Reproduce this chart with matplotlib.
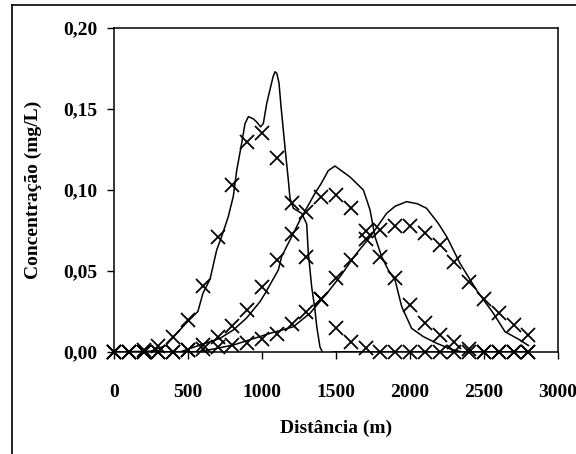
import matplotlib
matplotlib.use("Agg")
import matplotlib.pyplot as plt
from matplotlib.lines import Line2D
from matplotlib.ticker import FuncFormatter

plt.rcParams['font.family'] = ['Liberation Serif', 'DejaVu Serif']
plt.rcParams['font.weight'] = 'bold'

# marker positions (distance in m) and measured concentrations
dist_pts = list(range(0, 2900, 100))
obs1 = [0, 0, 0.001, 0.004, 0.0094, 0.0198, 0.0407, 0.0708, 0.103, 0.1298,
        0.1354, 0.120, 0.0918, 0.0588, 0.033, 0.0146, 0.0064, 0.0023, 0, 0,
        0, 0, 0, 0, 0, 0, 0, 0, 0]
obs2 = [0, 0, 0, 0, 0, 0.001, 0.0043, 0.0095, 0.016, 0.026,
        0.040, 0.0565, 0.073, 0.0866, 0.0955, 0.097, 0.089, 0.075, 0.0588, 0.0455,
        0.029, 0.0177, 0.0105, 0.0064, 0.002, 0, 0, 0, 0]
obs3 = [0, 0, 0, 0, 0, 0.001, 0.002, 0.003, 0.0043, 0.0054,
        0.008, 0.011, 0.017, 0.025, 0.033, 0.0455, 0.057, 0.070, 0.0753, 0.078,
        0.078, 0.0733, 0.066, 0.0557, 0.0434, 0.0325, 0.0239, 0.0167, 0.0105]

# simulated curves
sim1_x = [0, 250, 350, 423, 500, 567, 600, 649, 694, 730, 772, 806, 829, 863, 885,
          908, 940, 964, 990, 1009, 1032, 1054, 1075, 1088, 1100, 1115, 1128, 1143,
          1160, 1178, 1189, 1212, 1268, 1302, 1313, 1336, 1358, 1370, 1392, 1414,
          1459, 1480, 2800]
sim1_y = [0, 0.0005, 0.004, 0.0115, 0.019, 0.025, 0.036, 0.045, 0.063, 0.072, 0.0835,
          0.096, 0.112, 0.129, 0.141, 0.1453, 0.144, 0.142, 0.139, 0.141, 0.1535,
          0.162, 0.170, 0.173, 0.172, 0.166, 0.152, 0.138, 0.122, 0.106, 0.095, 0.0887,
          0.0856, 0.079, 0.061, 0.040, 0.026, 0.0156, 0.003, -0.001, -0.001, 0, 0]

sim2_x = [0, 446, 581, 716, 806, 896, 986, 1020, 1110, 1133, 1223, 1257, 1358, 1400,
          1448, 1493, 1520, 1595, 1685, 1730, 1764, 1808, 1853, 1899, 1944, 2011,
          2090, 2180, 2270, 2350, 2800]
sim2_y = [0, 0, 0.0043, 0.0084, 0.0136, 0.021, 0.031, 0.036, 0.0506, 0.059, 0.0753,
          0.0815, 0.098, 0.104, 0.112, 0.1148, 0.113, 0.108, 0.100, 0.0877, 0.071,
          0.059, 0.0506, 0.0444, 0.028, 0.0146, 0.0095, 0.0054, 0.002, 0, 0]

sim3_x = [0, 581, 806, 1054, 1212, 1324, 1437, 1527, 1640, 1730, 1842, 1900, 1977,
          2050, 2112, 2191, 2248, 2338, 2451, 2563, 2642, 2743, 2800]
sim3_y = [0, 0.0002, 0.0043, 0.0115, 0.0156, 0.0239, 0.036, 0.0465, 0.061, 0.071,
          0.0856, 0.090, 0.0928, 0.0915, 0.0887, 0.0794, 0.0712, 0.0547, 0.038,
          0.0239, 0.0125, 0.0074, 0.004]

x_ticks = [0, 500, 1000, 1500, 2000, 2500, 3000]
y_ticks = [0, 0.05, 0.10, 0.15, 0.20]

fig = plt.figure(figsize=(5.76, 4.54), dpi=100)
ax = fig.add_axes([114 / 576, 1 - 352 / 454, 444 / 576, 324 / 454])

for sx, sy in [(sim1_x, sim1_y), (sim2_x, sim2_y), (sim3_x, sim3_y)]:
    ax.plot(sx, sy, color="black", lw=1.1, zorder=3)
for obs in [obs1, obs2, obs3]:
    ax.plot(dist_pts, obs, "x", color="black", ms=9.5, mew=1.3,
            clip_on=False, zorder=4)

ax.set_xlim(0, 3000)
ax.set_ylim(0, 0.20)
ax.set_xticks(x_ticks)
ax.set_yticks(y_ticks)
ax.yaxis.set_major_formatter(FuncFormatter(lambda v, p: f"{v:.2f}".replace(".", ",")))
ax.tick_params(direction="out", length=5, width=1, labelsize=14)
ax.tick_params(axis="x", pad=18)
ax.tick_params(axis="y", pad=7)
for s in ax.spines.values():
    s.set_linewidth(1.1)

fig.text(336 / 576, 1 - 428 / 454, "Distância (m)", ha="center", va="center",
         fontsize=14, fontweight="bold")
fig.text(33 / 576, 1 - 190 / 454, "Concentração (mg/L)", ha="center", va="center",
         rotation=90, fontsize=14, fontweight="bold")

# outer chart border (left and top edges visible)
fig.add_artist(Line2D([12 / 576, 12 / 576], [0, 1 - 5 / 454], color="black", lw=1.2))
fig.add_artist(Line2D([12 / 576, 1], [1 - 5 / 454, 1 - 5 / 454], color="black", lw=1.2))

fig.savefig("out.png", dpi=100)
